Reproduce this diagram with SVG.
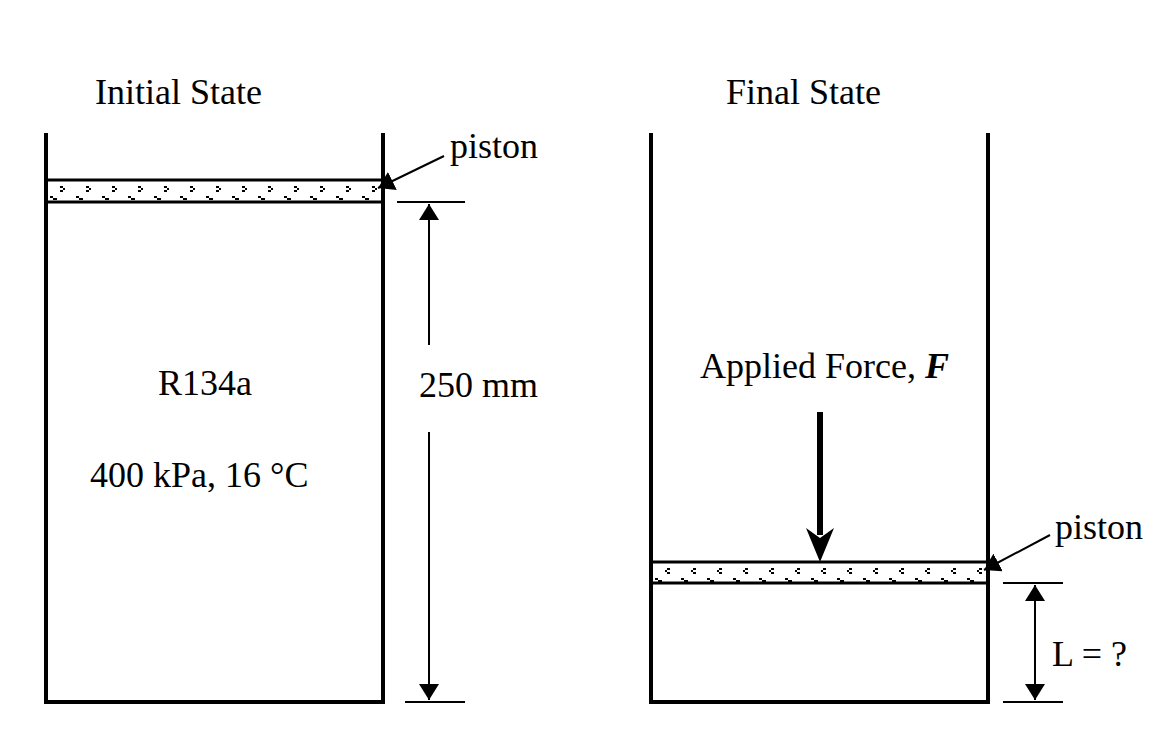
<svg xmlns="http://www.w3.org/2000/svg" width="1168" height="756" viewBox="0 0 1168 756">
<style>
text{font-family:"Liberation Serif","Times New Roman",serif;font-size:36px;fill:#000}
.w{stroke:#000;stroke-width:4;fill:none}
.t{stroke:#000;stroke-width:2;fill:none}
</style>
<defs>
<pattern id="dotsL" width="26" height="22" patternUnits="userSpaceOnUse" x="46" y="180">
<rect x="14" y="6" width="3" height="2" fill="#000"/><rect x="17" y="8" width="2" height="2" fill="#000"/><rect x="14" y="10" width="3" height="2" fill="#000"/><rect x="4" y="16" width="3" height="2" fill="#000"/><rect x="7" y="18" width="4" height="2" fill="#000"/>
</pattern>
<pattern id="dotsR" width="26" height="21" patternUnits="userSpaceOnUse" x="651" y="562">
<rect x="16" y="6" width="3" height="2" fill="#000"/><rect x="14" y="8" width="2" height="2" fill="#000"/><rect x="16" y="10" width="3" height="2" fill="#000"/><rect x="4" y="16" width="3" height="2" fill="#000"/><rect x="7" y="18" width="4" height="2" fill="#000"/>
</pattern>
<marker id="ad" viewBox="0 0 16 20" refX="16" refY="10" markerWidth="16" markerHeight="20" markerUnits="userSpaceOnUse" orient="auto-start-reverse"><path d="M0,0L16,10L0,20z" fill="#000"/></marker>
</defs>
<g id="initial">
<text x="95" y="104">Initial State</text>
<path class="w" d="M46,133V702H383V133"/>
<rect x="46" y="180" width="337" height="22" fill="url(#dotsL)" stroke="#000" stroke-width="3"/>
<text x="158" y="395">R134a</text>
<text x="90" y="487">400 kPa, 16 °C</text>
</g>
<g id="final">
<text x="726" y="104">Final State</text>
<path class="w" d="M651,133V702H988V133"/>
<rect x="651" y="562" width="337" height="21" fill="url(#dotsR)" stroke="#000" stroke-width="3"/>
<text x="700" y="378">Applied Force, <tspan font-weight="bold" font-style="italic">F</tspan></text>
</g>
<g id="labels">
<text x="450" y="158">piston</text>
<text x="1055" y="539">piston</text>
<text x="419" y="397">250 mm</text>
<text x="1052" y="666">L = ?</text>
</g>
<g id="connectors">
<line class="t" x1="444" y1="156" x2="378" y2="188" stroke-width="3" marker-end="url(#ad)"/>
<line class="t" x1="1050" y1="535" x2="984" y2="570" stroke-width="3" marker-end="url(#ad)"/>
<path class="t" d="M397,202H465M405,702H465M1003,583H1063M1003,702H1063"/>
<line class="t" x1="429" y1="204" x2="429" y2="345" marker-start="url(#ad)"/>
<line class="t" x1="429" y1="432" x2="429" y2="700" marker-end="url(#ad)"/>
<line class="t" x1="1035" y1="585" x2="1035" y2="700" marker-start="url(#ad)" marker-end="url(#ad)"/>
<line x1="820" y1="412" x2="820" y2="535" stroke="#000" stroke-width="6"/>
<path d="M806,528L820,562L834,528L820,538z" fill="#000"/>
</g>
</svg>
